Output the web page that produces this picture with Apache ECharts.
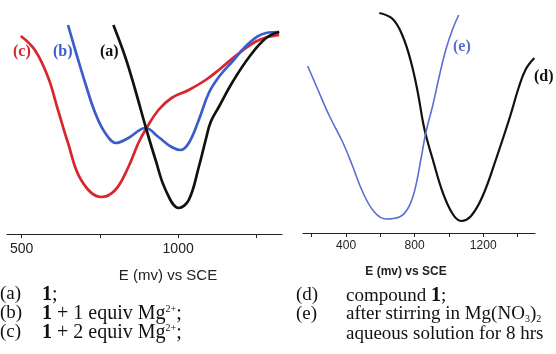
<!DOCTYPE html>
<html>
<head>
<meta charset="utf-8">
<script src="https://cdn.jsdelivr.net/npm/echarts@6/dist/echarts.min.js"></script>
<style>
  html, body { margin: 0; padding: 0; background: #fff; }
  #chart { width: 556px; height: 354px; }
</style>
</head>
<body>
<div id="chart"></div>
<script>
// left panel: curves a, b, c  [E (mV), current (arb.)]
const curveA = [[793,209],[831,177],[863,144],[899,104],[928,74],[960,44],[1002,26],[1034,34],[1066,67],[1088,94],[1104,112],[1130,127],[1172,151],[1227,177],[1281,196],[1323,202]];
const curveB = [[648,209],[674,181],[703,151],[735,121],[767,101],[802,91],[841,96],[896,106],[937,97],[979,87],[1008,84],[1034,91],[1066,114],[1098,141],[1130,157],[1172,172],[1227,191],[1281,201],[1323,202]];
const curveC = [[497,198],[542,184],[584,157],[616,124],[648,91],[690,54],[754,37],[799,44],[841,67],[873,91],[899,106],[937,124],[979,136],[1034,144],[1088,154],[1130,164],[1195,181],[1259,194],[1323,199]];

// right panel: curves d, e
const curveD = [[594,220],[672,214],[730,197],[779,171],[818,141],[857,104],[905,74],[963,41],[1022,19],[1071,12],[1129,17],[1197,37],[1275,74],[1352,114],[1410,147],[1449,164],[1498,175]];
const curveE = [[176,167],[234,144],[303,117],[380,91],[438,67],[497,41],[565,21],[633,14],[711,16],[759,24],[798,41],[837,74],[866,101],[905,127],[944,157],[983,184],[1022,204],[1057,218]];

const leftLabels = [500, 1000];
const leftTicks = [500, 750, 1000, 1250];
const rightLabels = [400, 800, 1200];
const rightTicks = [200, 400, 600, 800, 1000, 1200, 1400];

const chart = echarts.init(document.getElementById('chart'));

const serif = 'Liberation Serif';
const sans = 'Liberation Sans';

function xAxisCfg(idx, min, max, labels, ticks, fs, margin) {
  return {
    gridIndex: idx, type: 'value', min: min, max: max,
    splitLine: { show: false },
    axisLine: { show: true, onZero: false, lineStyle: { color: '#222', width: 1.2 } },
    axisTick: { show: true, customValues: ticks, length: 4, lineStyle: { color: '#222' } },
    axisLabel: { customValues: labels, color: '#222', fontFamily: sans, fontSize: fs, margin: margin,
      formatter: v => String(v) }
  };
}

function line(xi, data, color, width) {
  return {
    type: 'line', xAxisIndex: xi, yAxisIndex: xi, data: data,
    smooth: 0.4, symbol: 'none',
    lineStyle: { color: color, width: width }
  };
}

const legendRich = {
  n: { fontFamily: serif, fontSize: 19, color: '#111' },
  w: { fontFamily: serif, fontSize: 20, color: '#111' },
  b: { fontFamily: serif, fontSize: 20, color: '#111', fontWeight: 'bold' },
  sup: { fontFamily: serif, fontSize: 10, color: '#111', verticalAlign: 'top', padding: [0, 0, 10, 0] },
  sub: { fontFamily: serif, fontSize: 10, color: '#111', padding: [9, 0, 0, 0] }
};

function txt(x, y, text) {
  return { type: 'text', left: x, top: y, style: { text: text, rich: legendRich, fill: '#111' } };
}

function tag(x, y, text, color) {
  return { type: 'text', left: x, top: y,
    style: { text: text, fill: color, font: 'bold 16px "Liberation Serif"' } };
}

function axisName(cx, cy, font) {
  return { type: 'text', x: cx, y: cy,
    style: { text: 'E (mv) vs SCE', fill: '#222', font: font, align: 'center', verticalAlign: 'middle' } };
}

chart.setOption({
  animation: false,
  backgroundColor: '#fff',
  grid: [
    { left: 7, width: 275, top: 0, height: 234 },
    { left: 303, width: 232, top: 0, height: 233 }
  ],
  xAxis: [
    xAxisCfg(0, 453, 1332, leftLabels, leftTicks, 14, 8),
    xAxisCfg(1, 149, 1502, rightLabels, rightTicks, 12, 7)
  ],
  yAxis: [
    { gridIndex: 0, type: 'value', min: 0, max: 234, show: false },
    { gridIndex: 1, type: 'value', min: 0, max: 233, show: false }
  ],
  series: [
    line(0, curveC, '#d8262d', 2.7),
    line(0, curveB, '#3d5ccc', 2.7),
    line(0, curveA, '#111111', 2.7),
    line(1, curveD, '#111111', 2.2),
    line(1, curveE, '#5a6fd2', 1.6)
  ],
  graphic: [
    axisName(168, 276, '15px "Liberation Sans"'),
    axisName(406, 272, 'bold 12px "Liberation Sans"'),
    tag(13, 44, '(c)', '#d8262d'),
    tag(53, 44, '(b)', '#3d5ccc'),
    tag(100, 44, '(a)', '#111'),
    tag(453, 39, '(e)', '#5a6fd2'),
    tag(534, 69, '(d)', '#111'),
    txt(0, 285, '{n|(a)}'), txt(42, 285, '{b|1}{w|;}'),
    txt(0, 304, '{n|(b)}'), txt(42, 304, '{b|1}{w| + 1 equiv Mg}{sup|2+}{w|;}'),
    txt(0, 323, '{n|(c)}'), txt(42, 323, '{b|1}{w| + 2 equiv Mg}{sup|2+}{w|;}'),
    txt(296, 286, '{n|(d)}'), txt(346, 286, '{n|compound }{b|1}{n|;}'),
    txt(296, 305, '{n|(e)}'), txt(346, 305, '{n|after stirring in Mg(NO}{sub|3}{n|)}{sub|2}'),
    txt(346, 325, '{n|aqueous solution for 8 hrs}')
  ]
});
</script>
</body>
</html>
